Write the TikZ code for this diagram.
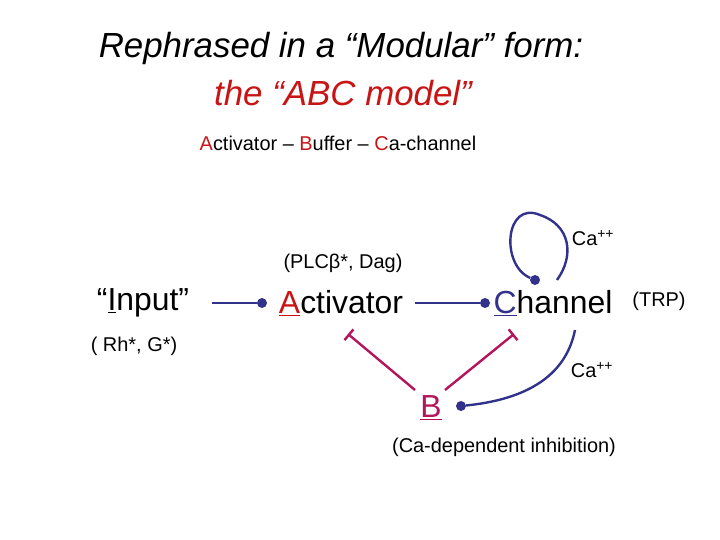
\documentclass[tikz,border=0pt]{standalone}
\usepackage{fontspec}
\setmainfont{Liberation Sans}
\usetikzlibrary{arrows.meta}
\definecolor{navy}{RGB}{50,50,140}
\definecolor{tred}{RGB}{200,20,20}
\definecolor{mag}{RGB}{180,20,90}
\begin{document}
\begin{tikzpicture}[x=1bp,y=-1bp,
  big/.style={font=\fontsize{32}{36}\selectfont,inner sep=0pt},
  small/.style={font=\fontsize{20}{24}\selectfont,inner sep=0pt},
  conn/.style={navy,line width=2.4pt},
  inh/.style={mag,line width=2.4pt,-{Bar[width=14pt]}},
  dotc/.style={circle,fill=navy,inner sep=0pt,minimum size=10pt}]
\useasboundingbox (0,0) rectangle (720,540);
\node[inner sep=0pt,font=\fontsize{35}{40}\selectfont\itshape] (t1) at (341,48) {Rephrased in a “Modular” form:};
\node[inner sep=0pt,font=\fontsize{35}{40}\selectfont\itshape,text=tred] (t2) at (343,93) {the “ABC model”};
\node[small] (sub) at (338,143) {\textcolor{tred}{A}ctivator -- \textcolor{tred}{B}uffer -- \textcolor{tred}{C}a-channel};
\node[big] (inp) at (143,303) {“\underline{I}nput”};
\node[big] (act) at (341,303) {\textcolor{tred}{\underline{A}}ctivator};
\node[big] (chn) at (553,303) {\textcolor{navy}{\underline{C}}hannel};
\node[big,text=mag] (b) at (431,408) {\underline{B}};
\node[small] (plc) at (343,263) {(PLCβ*, Dag)};
\node[small] (rh) at (134,346) {( Rh*, G*)};
\node[small] (trp) at (659,301) {(TRP)};
\node[small] (ca1) at (593,238) {Ca\textsuperscript{++}};
\node[small] (ca2) at (592,370) {Ca\textsuperscript{++}};
\node[small] (cdi) at (504,447) {(Ca-dependent inhibition)};
\node[dotc] (d1) at (262,303) {};
\node[dotc] (d2) at (485,303) {};
\node[dotc] (d3) at (535,280) {};
\node[dotc] (d4) at (461,406) {};
\coordinate (s1) at (212,303);
\coordinate (s2) at (415,303);
\coordinate (le) at (557,280);
\coordinate (ce) at (575,330);
\draw[conn] (s1) -- (d1);
\draw[conn] (s2) -- (d2);
\draw[conn] (d3) .. controls (500,265) and (505,200) .. (540,215) .. controls (570,225) and (575,255) .. (le);
\draw[conn] (d4) .. controls (520,400) and (565,380) .. (ce);
\coordinate (bi1) at (415,390);
\coordinate (bi2) at (445,390);
\coordinate (ai) at (348,334);
\coordinate (ci) at (514,334);
\draw[inh] (bi1) -- (ai);
\draw[inh] (bi2) -- (ci);
\end{tikzpicture}
\end{document}
